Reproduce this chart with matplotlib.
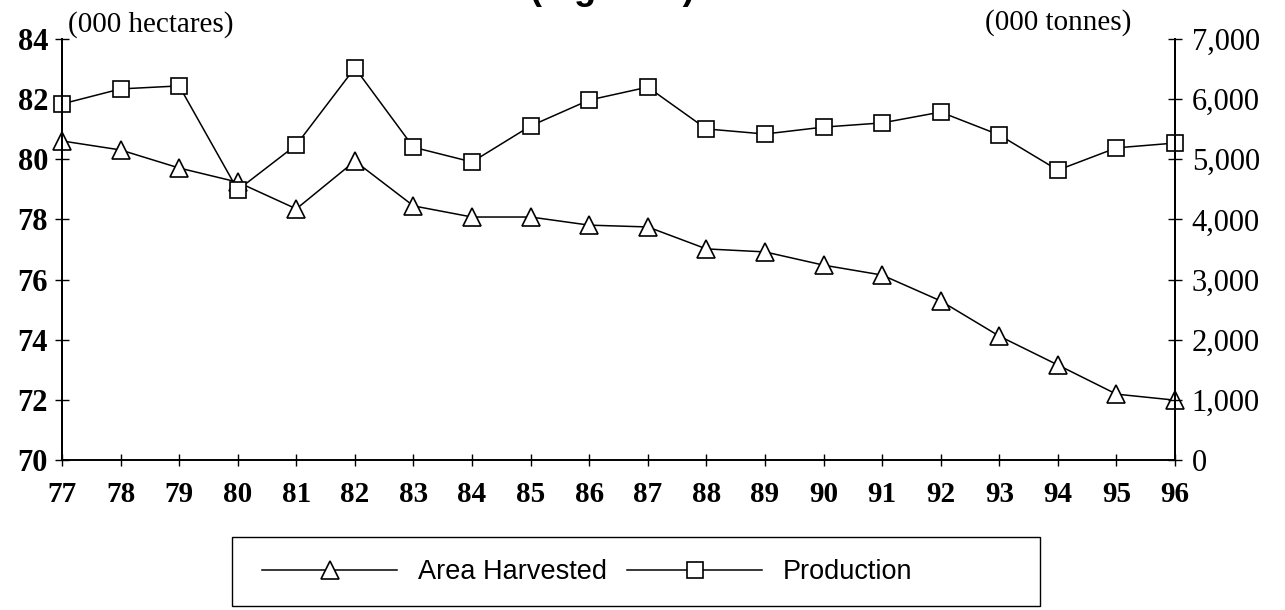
import matplotlib
matplotlib.use("Agg")
import matplotlib.pyplot as plt
from matplotlib.patches import Rectangle

# data
years = [77, 78, 79, 80, 81, 82, 83, 84, 85, 86, 87, 88, 89, 90, 91, 92, 93, 94, 95, 96]
area_harvested = [80.61, 80.31, 79.71, 79.24, 78.35, 79.94, 78.45, 78.08, 78.08, 77.81,
                  77.75, 77.02, 76.92, 76.48, 76.15, 75.29, 74.12, 73.16, 72.19, 71.99]  # 000 hectares
production = [5920, 6170, 6220, 4490, 5240, 6520, 5200, 4955, 5555, 5985,
              6200, 5505, 5420, 5535, 5605, 5785, 5405, 4820, 5190, 5270]  # 000 tonnes

left_ticks = [70, 72, 74, 76, 78, 80, 82, 84]
right_ticks = [0, 1000, 2000, 3000, 4000, 5000, 6000, 7000]
right_labels = ["0", "1,000", "2,000", "3,000", "4,000", "5,000", "6,000", "7,000"]

serif = "Liberation Serif"
sans = "Liberation Sans"

fig = plt.figure(figsize=(12.85, 6.1), dpi=100)
ax = fig.add_axes([62 / 1285, 1 - 460 / 610, (1175 - 62) / 1285, (460 - 39) / 610])
ax2 = ax.twinx()

l1, = ax.plot(years, area_harvested, color="black", lw=1.1, marker="^", ms=13,
              mfc="white", mec="black", mew=1.2, clip_on=False, label="Area Harvested")
l2, = ax2.plot(years, production, color="black", lw=1.1, marker="s", ms=12,
               mfc="white", mec="black", mew=1.2, clip_on=False, label="Production")

ax.set_xlim(77, 96)
ax.set_ylim(70, 84)
ax2.set_ylim(0, 7000)

for a in (ax, ax2):
    a.spines["top"].set_visible(False)
    a.spines["left"].set_linewidth(1.4)
    a.spines["right"].set_linewidth(1.4)
    a.spines["bottom"].set_linewidth(1.2)

ax.set_xticks(years)
ax.set_xticklabels([str(y) for y in years], fontfamily=serif, fontsize=21, fontweight="bold")
ax.set_yticks(left_ticks)
ax.set_yticklabels([str(t) for t in left_ticks], fontfamily=serif, fontsize=22, fontweight="bold")
ax2.set_yticks(right_ticks)
ax2.set_yticklabels(right_labels, fontfamily=serif, fontsize=22)

ax.tick_params(axis="x", direction="inout", length=8, width=1, pad=11)
ax.tick_params(axis="y", direction="inout", length=10, width=1, pad=5)
ax2.tick_params(axis="y", direction="inout", length=10, width=1, pad=7)

# unit labels
fig.text(68 / 1285, 1 - 32 / 610, "(000 hectares)", fontfamily=serif, fontsize=21,
         ha="left", va="baseline")
fig.text(985 / 1285, 1 - 30 / 610, "(000 tonnes)", fontfamily=serif, fontsize=21,
         ha="left", va="baseline")

# title is cut off at the top edge of the scan, only descenders show
fig.text(612 / 1285, 1 + 1 / 610, "(Figure 2)", fontfamily=sans, fontsize=26,
         fontweight="bold", ha="center", va="baseline")

# legend box
fig.patches.append(Rectangle((232 / 1285, 1 - 606 / 610), 808 / 1285, 69 / 610,
                             transform=fig.transFigure, fill=False, ec="black", lw=1))
fig.legend(handles=[l1, l2], loc="center left", bbox_to_anchor=(262 / 1285, 1 - 572 / 610),
           ncol=2, frameon=False, numpoints=1, borderpad=0, borderaxespad=0,
           handlelength=5.0, handletextpad=0.75, columnspacing=0.75,
           prop={"family": sans, "size": 19.5})

fig.savefig("out.png", dpi=100)
